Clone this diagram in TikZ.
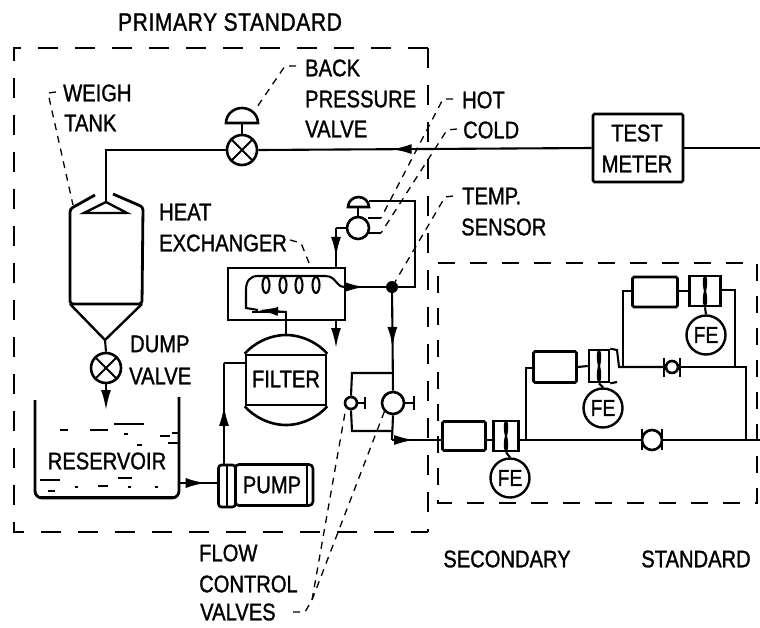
\documentclass[tikz,border=0pt]{standalone}
\usepackage{fontspec}
\setmainfont{Liberation Sans}[FakeStretch=0.84,FakeBold=1.2]
\usetikzlibrary{arrows.meta,decorations.markings}
\tikzset{
  pipe/.style={line width=2.1pt, black},
  tankwall/.style={line width=2.8pt, black},
  dashframe/.style={line width=2.1pt, black, dash pattern=on 20pt off 17pt},
  leader/.style={line width=1.3pt, black, dash pattern=on 7pt off 6pt},
  flowto/.style={postaction={decorate, decoration={markings,
      mark=at position #1 with {\arrow{Latex[length=20pt,width=10pt]}}}}},
  lefttxt/.style={font=\fontsize{24}{24}\selectfont, inner sep=0pt, anchor=west},
  midtxt/.style={font=\fontsize{24}{24}\selectfont, inner sep=0pt},
  valve/.style={circle, draw, line width=2.6pt, fill=white, inner sep=0pt, minimum size=#1},
  meter/.style={rectangle, draw, line width=2.6pt, fill=white, rounded corners=1.5pt, inner sep=0pt},
  fe/.style={circle, draw, line width=2.4pt, fill=white, inner sep=0pt, minimum size=39pt,
    font=\fontsize{23}{23}\selectfont},
}
\begin{document}
\begin{tikzpicture}[x=1pt, y=-1pt]
    \useasboundingbox (0,0) rectangle (760,627);

    % frames
    \draw[dashframe] (428,48) -- (14,48) -- (14,532) -- (428,532);
    \draw[dashframe] (428,48) -- (428,532);
    \draw[dashframe, dash pattern=on 17pt off 15pt] (438,263) -- (757,263) -- (757,503) -- (438,503) -- cycle;

    % main line
    \node[meter, minimum width=90pt, minimum height=68pt] (testmeter) at (638,148) {};
    \node[midtxt] (testtxt) at (637,133) {TEST};
    \node[midtxt] (metertxt) at (637,164) {METER};
    \node[valve=30pt] (backvalve) at (242,150) {};
    \coordinate (linein) at (760,148);
    \coordinate (tanktop) at (106,202);
    \coordinate (tankcorner) at (106,150);
    \draw[pipe] (linein) -- (testmeter.east);
    \draw[pipe, flowto=0.6] (testmeter.west) -- (backvalve.east);
    \draw[pipe] (backvalve.west) -- (tankcorner) -- (tanktop);
    \draw[pipe] (231.5,139.5) -- (252.5,160.5) (231.5,160.5) -- (252.5,139.5);
    \draw[pipe] (backvalve.north) -- (242,123);
    \draw[pipe, fill=white, line width=2.6pt] (226,123) -- (258,123) arc (0:-180:16 and 15) -- cycle;

    % weigh tank
    \draw[tankwall, rounded corners=3pt] (95,195) -- (70,209) -- (70,304) -- (142,304) -- (143,207) -- (113,194);
    \draw[pipe, line width=2.4pt] (84,213) -- (tanktop) -- (127,213) -- cycle;
    \draw[pipe, line width=2.4pt] (70,304) -- (105,340) -- (142,304);
    \node[valve=30pt] (dumpvalve) at (106,368) {};
    \draw[pipe] (105,340) -- (dumpvalve.north);
    \draw[pipe] (95.5,357.5) -- (116.5,378.5) (95.5,378.5) -- (116.5,357.5);
    \coordinate (dumptip) at (106,410);
    \draw[pipe, -{Latex[length=20pt,width=10pt]}] (dumpvalve.south) -- (dumptip);

    % reservoir
    \draw[tankwall, rounded corners=7pt] (35,400) -- (35,498) -- (179,498) -- (179,397);
    \foreach \xa/\ya/\xb in {114/424/144, 60/430/68, 92/430/108, 124/434/128, 160/436/170,
        172/433/179, 168/443/179, 137/445/142, 40/480/60, 118/478/132, 48/491/55, 75/487/78,
        98/486/108, 128/487/131, 155/487/158, 90/430/92}
      \draw[pipe, line width=1.5pt] (\xa,\ya) -- (\xb,\ya);
    \node[midtxt] (reservoir) at (107,461) {RESERVOIR};
    \draw[pipe, line width=2.4pt] (40,497) -- (174,497);

    % pump and filter
    \node[meter, minimum width=78pt, minimum height=41pt, rounded corners=4pt] (pump) at (274,485) {};
    \node[meter, minimum width=17pt, minimum height=42pt, rounded corners=3pt] (pumphead) at (227,486) {};
    \draw[pipe] (227,465) -- (227,507) (307,465) -- (307,505);
    \node[midtxt] (pumptxt) at (272,485) {PUMP};
    \coordinate (resout) at (179,483);
    \draw[pipe, flowto=0.7] (resout) -- (pumphead.west |- resout);
    \node[meter, minimum width=80pt, minimum height=50pt, rounded corners=0pt] (filter) at (286,380) {};
    \draw[pipe, line width=2.6pt] (filter.north west) .. controls (254,343) and (270,335) .. (286,335)
        .. controls (302,335) and (318,343) .. (filter.north east);
    \draw[pipe, line width=2.6pt] (filter.south west) .. controls (254,417) and (270,425) .. (286,425)
        .. controls (302,425) and (318,417) .. (filter.south east);
    \node[midtxt] (filtertxt) at (286,379) {FILTER};
    \coordinate (filtercorner) at (224,363);
    \draw[pipe, flowto=0.58] (224,465) -- (filtercorner);
    \draw[pipe] (filtercorner) -- (246,363);

    % heat exchanger
    \draw[pipe, line width=2.6pt] (228,268) rectangle (345,320);
    \draw[pipe] (286,335) -- (286,312) -- (252,312);
    \draw[pipe, -{Latex[length=20pt,width=9pt]}] (286,312) -- (258,310);
    \draw[pipe] (258,310) -- (246,308) -- (246,290) .. controls (246,281) and (250,276) .. (258,276)
        -- (325,276) .. controls (337,276) and (335,287) .. (345,287);
    \foreach \cx in {266,283,299,316}
      \draw[pipe, fill=white] (\cx,285) ellipse (3.5 and 8);
    \draw[pipe] (258,276) -- (325,276);
    \node[circle, fill=black, inner sep=0pt, minimum size=12pt] (junction) at (392,287) {};
    \draw[pipe, flowto=0.48] (345,287) -- (junction);
    \coordinate (backtop) at (415,201);
    \draw[pipe, line width=2.8pt] (junction) -- (415,287) -- (backtop) -- (369,201);
    \draw[pipe, fill=white, line width=2.6pt] (348,207) -- (369,207) arc (0:-180:10.5 and 10) -- cycle;
    \node[valve=22pt] (hotvalve) at (358,228) {};
    \draw[pipe] (358,207) -- (hotvalve.north);
    \coordinate (hotstub) at (381,218);
    \coordinate (coldstub) at (381,233);
    \draw[pipe] (368,218) -- (hotstub) (368,233) -- (coldstub);
    \draw[pipe] (hotvalve.west) -- (336,228);
    \draw[pipe, flowto=0.72] (336,228) -- (336,268);
    \draw[pipe, -{Latex[length=20pt,width=10pt]}] (336,320) -- (336,348);

    % flow control valves
    \node[valve=22pt] (bigvalve) at (393,403) {};
    \node[valve=12pt] (smallvalve) at (351,403) {};
    \draw[pipe, flowto=0.55] (junction) -- (bigvalve.north);
    \draw[pipe] (392,373) -- (352,373) -- (smallvalve.north);
    \draw[pipe] (smallvalve.south) -- (352,431) -- (392,431);
    \draw[pipe] (bigvalve.east) -- (414,403) (414,396) -- (414,410);
    \draw[pipe] (smallvalve.east) -- (365,403) (365,397) -- (365,409);

    % secondary standard
    \node[meter, minimum width=43pt, minimum height=29pt] (leglow) at (464,436) {};
    \node[meter, minimum width=25pt, minimum height=30pt, rounded corners=0pt] (elemlow) at (506,436) {};
    \node[fe] (felow) at (510,478) {FE};
    \node[meter, minimum width=43pt, minimum height=31pt] (legmid) at (555,367) {};
    \node[meter, minimum width=20pt, minimum height=32pt, rounded corners=0pt] (elemmid) at (599,366) {};
    \node[fe] (femid) at (603,408) {FE};
    \node[meter, minimum width=45pt, minimum height=30pt] (legtop) at (655,292) {};
    \node[meter, minimum width=31pt, minimum height=30pt, rounded corners=0pt] (elemtop) at (705,291) {};
    \node[fe] (fetop) at (706,335) {FE};
    \node[valve=20pt] (valvelow) at (652,440) {};
    \node[valve=12pt] (valvemid) at (672,367) {};

    \coordinate (lineout) at (760,440);
    \coordinate (lowtee) at (526,440);
    \coordinate (righttee) at (746,440);
    \coordinate (midtee) at (746,367);
    \coordinate (uptee) at (623,367);
    \draw[pipe] (bigvalve.south) -- (392,440);
    \draw[pipe, flowto=0.45] (392,440) -- (leglow.west |- lowtee);
    \draw[pipe] (leglow.east |- lowtee) -- (elemlow.west |- lowtee);
    \draw[pipe] (elemlow.east |- lowtee) -- (valvelow.west);
    \draw[pipe] (valvelow.east) -- (lineout);
    \draw[pipe] (lowtee) -- (526,368) -- (legmid.west |- 0,368);
    \draw[pipe] (legmid.east) -- (elemmid.west);
    \draw[pipe] (elemmid.north east) -- (617,350) -- (619,367) -- (valvemid.west);
    \draw[pipe] (elemmid.south east) -- (617,382);
    \draw[pipe] (valvemid.east) -- (midtee) -- (righttee);
    \draw[pipe] (uptee) -- (623,291) -- (legtop.west |- 0,291);
    \draw[pipe] (legtop.east |- 0,291) -- (elemtop.west |- 0,291);
    \draw[pipe] (elemtop.east |- 0,290) -- (735,290) -- (735,367);

    % orifice marks and stems
    \foreach \ex/\ey/\eh in {506/436/15, 599/366/16, 705/291/15}
      \draw[pipe, line width=2.2pt] (\ex,\ey-\eh) .. controls (\ex+4,\ey-6) and (\ex-4,\ey+6) .. (\ex,\ey+\eh)
        (\ex,\ey-\eh) .. controls (\ex-4,\ey-6) and (\ex+4,\ey+6) .. (\ex,\ey+\eh);
    \draw[pipe] (elemlow.south) -- (felow.north);
    \draw[pipe] (elemmid.south) -- (femid.north);
    \draw[pipe] (elemtop.south) -- (fetop.north);

    % bars on the line valves
    \draw[pipe, line width=2.8pt] (642,429) -- (642,450) (662,429) -- (662,450);
    \draw[pipe, line width=2.8pt] (664,358) -- (664,377) (680,358) -- (680,377);

    % leaders
    \draw[leader] (56,92) -- (48,93) -- (73,205);
    \draw[leader] (296,66) -- (285,66) -- (255,110);
    \draw[leader] (453,99) -- (443,99) -- (hotstub);
    \draw[leader] (457,129) -- (447,130) -- (coldstub);
    \draw[leader] (453,196) -- (445,197) -- (junction);
    \draw[leader] (290,240) -- (301,243) -- (311,268);
    \draw[leader] (293,612) -- (305,612) -- (312,600) -- (smallvalve.south west);
    \draw[leader] (312,600) -- (bigvalve.south west);

    % labels
    \node[midtxt, font=\fontsize{25}{25}\selectfont\addfontfeature{LetterSpace=2.5}] (primary) at (230,22) {PRIMARY STANDARD};
    \node[lefttxt] (weigh) at (63,93) {WEIGH};
    \node[lefttxt] (tanklbl) at (64,123) {TANK};
    \node[lefttxt] (back) at (305,68) {BACK};
    \node[lefttxt] (pressure) at (305,99) {PRESSURE};
    \node[lefttxt] (valvelbl) at (305,129) {VALVE};
    \node[lefttxt] (hot) at (462,100) {HOT};
    \node[lefttxt] (cold) at (463,130) {COLD};
    \node[lefttxt] (temp) at (462,196) {TEMP.};
    \node[lefttxt] (sensor) at (461,227) {SENSOR};
    \node[lefttxt] (heat) at (159,212) {HEAT};
    \node[lefttxt] (exchanger) at (159,243) {EXCHANGER};
    \node[lefttxt] (dump) at (130,344) {DUMP};
    \node[lefttxt] (dumplbl) at (129,376) {VALVE};
    \node[lefttxt] (flow) at (199,553) {FLOW};
    \node[lefttxt] (control) at (199,584) {CONTROL};
    \node[lefttxt] (valves) at (200,612) {VALVES};
    \node[midtxt] (secondary) at (507,559) {SECONDARY};
    \node[midtxt] (standard) at (696,559) {STANDARD};
\end{tikzpicture}
\end{document}
